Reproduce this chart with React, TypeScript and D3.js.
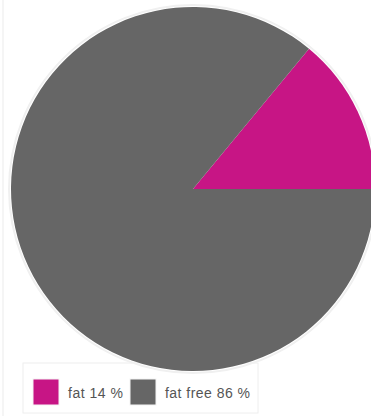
import React from "react";
import * as d3 from "d3";

const categories = ["fat", "fat free"];
const values = [14, 86];
const legendLabels = ["fat 14 %", "fat free 86 %"];
const colors = ["#C71585", "#666666"];

export default function App() {
  const W = 371, H = 416;
  const cx = 193, cy = 189, r = 182;
  const pie = d3.pie<number>().sort(null).startAngle(Math.PI / 2).endAngle(Math.PI / 2 - 2 * Math.PI);
  const arcs = pie(values);
  const arc = d3.arc<d3.PieArcDatum<number>>().innerRadius(0).outerRadius(r);
  const legendX = 23, legendY = 363;
  const itemX = [33, 130];
  return (
    <svg width={W} height={H} style={{ position: "absolute", left: 0, top: 0, background: "#fff" }}
      fontFamily="Liberation Sans, Arial, sans-serif">
      <line x1={3} y1={0} x2={3} y2={H} stroke="#f2f2f2" strokeWidth={1.5} />
      <rect x={legendX} y={legendY} width={235} height={50} fill="#fff" stroke="#eeeeee" strokeWidth={1} />
      <circle cx={cx} cy={cy} r={r + 2} fill="none" stroke="#f0f0f0" strokeWidth={2} />
      <g transform={`translate(${cx},${cy})`}>
        {arcs.map((a, i) => (
          <path key={categories[i]} d={arc(a) || ""} fill={colors[i]} />
        ))}
      </g>
      {categories.map((c, i) => (
        <g key={c}>
          <rect x={itemX[i]} y={379} width={26} height={26} fill={colors[i]} stroke="#f4f4f4" />
          <text x={itemX[i] + 35} y={397.5} fontSize={14} fill="#555" textLength={i === 0 ? 55 : 85}>{legendLabels[i]}</text>
        </g>
      ))}
    </svg>
  );
}
